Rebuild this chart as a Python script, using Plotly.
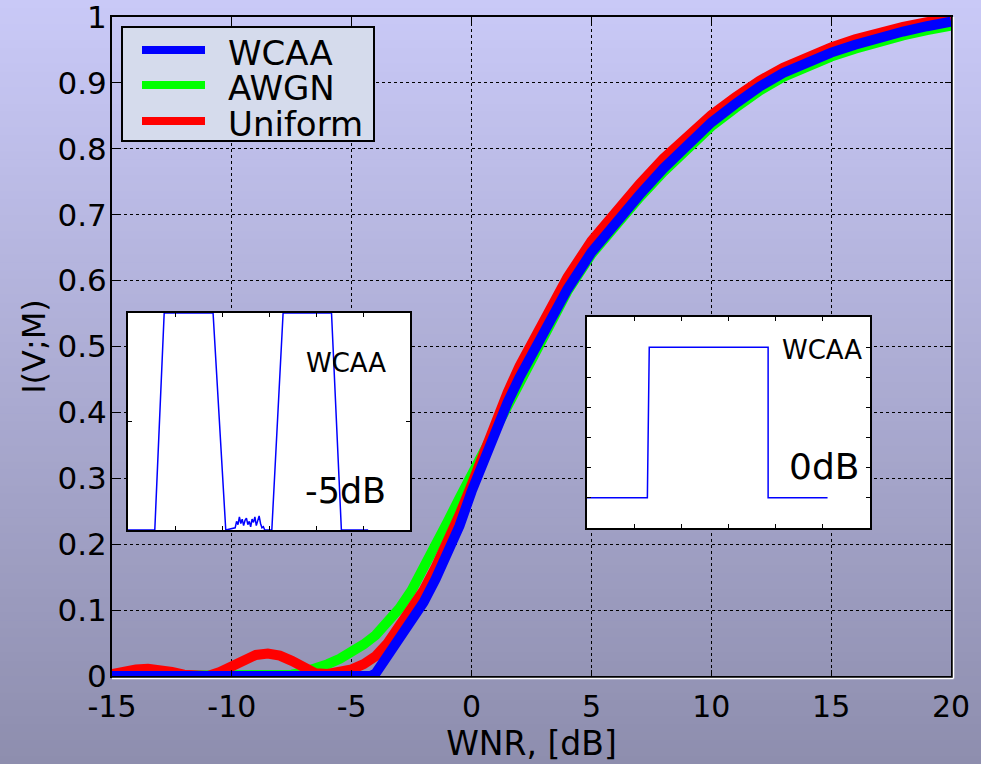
import plotly.graph_objects as go

# ---------------- data ----------------
wnr_wcaa = [-15, -4.2, -4.0, -3.5, -3.0, -2.5, -2.0, -1.5, -1.0, -0.5, 0.0, 0.5, 1.0, 1.5,
            2.0, 2.5, 3.0, 4.0, 5.0, 6.0, 7.0, 8.0, 9.0, 10.0, 11.0, 12.0, 13.0, 14.0,
            15.0, 16.0, 17.0, 18.0, 19.0, 20.0]
mi_wcaa = [0.0, 0.0, 0.004, 0.03, 0.055, 0.082, 0.112, 0.147, 0.184, 0.228, 0.28, 0.328,
           0.375, 0.415, 0.453, 0.487, 0.52, 0.587, 0.643, 0.688, 0.73, 0.77, 0.807, 0.84,
           0.868, 0.894, 0.915, 0.932, 0.946, 0.958, 0.969, 0.978, 0.986, 0.993]

wnr_awgn = [-15, -8.0, -7.5, -7.0, -6.5, -6.0, -5.5, -5.0, -4.5, -4.0, -3.5, -3.0, -2.5,
            -2.0, -1.5, -1.0, -0.5, 0.0, 0.5, 1.0, 1.5, 2.0, 2.5, 3.0, 4.0, 5.0, 6.0, 7.0,
            8.0, 9.0, 10.0, 11.0, 12.0, 13.0, 14.0, 15.0, 16.0, 17.0, 18.0, 19.0, 20.0]
mi_awgn = [0.0, 0.0, 0.002, 0.006, 0.011, 0.018, 0.026, 0.036, 0.048, 0.062, 0.08, 0.103,
           0.13, 0.163, 0.198, 0.234, 0.27, 0.305, 0.342, 0.378, 0.415, 0.452, 0.486, 0.518,
           0.584, 0.64, 0.685, 0.726, 0.765, 0.802, 0.834, 0.862, 0.888, 0.909, 0.926, 0.94,
           0.952, 0.963, 0.972, 0.98, 0.987]

wnr_unif = [-15, -14.5, -14.0, -13.5, -13.0, -12.5, -12.0, -11.5, -11.0, -10.5, -10.0, -9.5,
            -9.0, -8.5, -8.0, -7.5, -7.0, -6.5, -6.0, -5.5, -5.0, -4.5, -4.0, -3.5, -3.0,
            -2.5, -2.0, -1.5, -1.0, -0.5, 0.0, 0.5, 1.0, 1.5, 2.0, 2.5, 3.0, 4.0, 5.0, 6.0,
            7.0, 8.0, 9.0, 10.0, 11.0, 12.0, 13.0, 14.0, 15.0, 16.0, 17.0, 18.0, 19.0, 20.0]
mi_unif = [0.003, 0.007, 0.01, 0.011, 0.01, 0.006, 0.002, 0.0, 0.0, 0.006, 0.015, 0.026,
           0.032, 0.034, 0.031, 0.023, 0.012, 0.004, 0.003, 0.005, 0.01, 0.018, 0.03, 0.05,
           0.075, 0.1, 0.13, 0.165, 0.203, 0.245, 0.29, 0.338, 0.388, 0.43, 0.47, 0.505,
           0.54, 0.605, 0.66, 0.705, 0.746, 0.785, 0.82, 0.851, 0.878, 0.903, 0.923, 0.94,
           0.954, 0.966, 0.976, 0.985, 0.992, 0.999]

series_names = ["WCAA", "AWGN", "Uniform"]
series_colors = ["#0000ff", "#00ff00", "#ff0000"]

x_tickvals = [-15, -10, -5, 0, 5, 10, 15, 20]
x_ticktext = ["-15", "-10", "-5", "0", "5", "10", "15", "20"]
y_tickvals = [0, 0.1, 0.2, 0.3, 0.4, 0.5, 0.6, 0.7, 0.8, 0.9, 1.0]
y_ticktext = ["0", "0.1", "0.2", "0.3", "0.4", "0.5", "0.6", "0.7", "0.8", "0.9", "1"]

# inset: WCAA noise distribution at -5 dB
pdf_m5_x = [0.0, 0.57, 0.77, 1.81, 2.08, 2.28, 2.31, 2.34, 2.37, 2.40, 2.43, 2.46, 2.49,
            2.52, 2.55, 2.58, 2.61, 2.64, 2.67, 2.70, 2.73, 2.76, 2.79, 2.82, 2.85, 2.88,
            2.91, 3.06, 3.30, 4.33, 4.54, 5.11]
pdf_m5_y = [0.0, 0.0, 2.0, 2.0, 0.0, 0.02, 0.08, 0.05, 0.12, 0.06, 0.10, 0.04, 0.09, 0.11,
            0.05, 0.08, 0.03, 0.10, 0.07, 0.12, 0.04, 0.09, 0.13, 0.06, 0.02, 0.03, 0.0,
            0.0, 2.0, 2.0, 0.0, 0.0]

# inset: WCAA noise distribution at 0 dB
pdf_0_x = [0.0, 1.28, 1.32, 3.84, 3.84, 5.1]
pdf_0_y = [1.0, 1.0, 6.0, 6.0, 1.0, 1.0]

FONT = "DejaVu Sans"
W, H = 981, 764
ML, MR, MT, MB = 112, 30, 17, 88
PW, PH = W - ML - MR, H - MT - MB


def px(xp):
    """page pixel column -> paper x"""
    return (xp - ML) / PW


def py(yp):
    """page pixel row -> paper y"""
    return (MT + PH - yp) / PH


fig = go.Figure()

# main curves: AWGN and Uniform underneath, WCAA on top
fig.add_trace(go.Scatter(x=wnr_awgn, y=mi_awgn, name="AWGN", mode="lines",
                         line=dict(color=series_colors[1], width=10), showlegend=False))
fig.add_trace(go.Scatter(x=wnr_unif, y=mi_unif, name="Uniform", mode="lines",
                         line=dict(color=series_colors[2], width=10), showlegend=False))
fig.add_trace(go.Scatter(x=wnr_wcaa, y=mi_wcaa, name="WCAA", mode="lines",
                         line=dict(color=series_colors[0], width=10), showlegend=False))

# inset panels: white backing then the distribution curve
fig.add_trace(go.Scatter(x=[0, 6, 6, 0, 0], y=[0, 0, 2, 2, 0], mode="lines", fill="toself",
                         fillcolor="white", line=dict(width=0), hoverinfo="skip",
                         showlegend=False, xaxis="x2", yaxis="y2"))
fig.add_trace(go.Scatter(x=pdf_m5_x, y=pdf_m5_y, mode="lines", showlegend=False,
                         line=dict(color="#0000ff", width=1.5), xaxis="x2", yaxis="y2"))
fig.add_trace(go.Scatter(x=[0, 6, 6, 0, 0], y=[0, 0, 7, 7, 0], mode="lines", fill="toself",
                         fillcolor="white", line=dict(width=0), hoverinfo="skip",
                         showlegend=False, xaxis="x3", yaxis="y3"))
fig.add_trace(go.Scatter(x=pdf_0_x, y=pdf_0_y, mode="lines", showlegend=False,
                         line=dict(color="#0000ff", width=1.5), xaxis="x3", yaxis="y3"))

# vertical background gradient over the whole page
top_c = (201, 201, 247)
bot_c = (142, 142, 174)
n_bands = 96
y_lo = -MB / PH
y_hi = 1 + MT / PH
shapes = []
for i in range(n_bands):
    t = i / (n_bands - 1)
    c = tuple(round(top_c[k] + (bot_c[k] - top_c[k]) * t) for k in range(3))
    y1 = y_hi - (y_hi - y_lo) * i / n_bands
    y0 = y_hi - (y_hi - y_lo) * (i + 1) / n_bands
    shapes.append(dict(type="rect", xref="paper", yref="paper",
                       x0=-ML / PW, x1=1 + MR / PW, y0=y0 - 0.002, y1=y1,
                       fillcolor="rgb(%d,%d,%d)" % c, line=dict(width=0), layer="below"))

# thin white edge outside the right and bottom frame
shapes.append(dict(type="line", xref="paper", yref="paper",
                   x0=1 + 2.5 / PW, x1=1 + 2.5 / PW, y0=-2.5 / PH, y1=1,
                   line=dict(color="white", width=1.5)))
shapes.append(dict(type="line", xref="paper", yref="paper",
                   x0=0, x1=1 + 2.5 / PW, y0=-2.5 / PH, y1=-2.5 / PH,
                   line=dict(color="white", width=1.5)))

# legend box with line swatches
shapes.append(dict(type="rect", xref="paper", yref="paper",
                   x0=px(122), x1=px(374), y0=py(141), y1=py(27),
                   fillcolor="#d5dbec", line=dict(color="black", width=2), layer="above"))
legend_rows = [50, 85, 121]
annotations = []
for name, color, row in zip(series_names, series_colors, legend_rows):
    shapes.append(dict(type="line", xref="paper", yref="paper",
                       x0=px(142), x1=px(205), y0=py(row), y1=py(row),
                       line=dict(color=color, width=8), layer="above"))
    annotations.append(dict(text=name, xref="paper", yref="paper", x=px(226),
                            y=py(row + 3), xanchor="left", yanchor="middle",
                            showarrow=False,
                            font=dict(family=FONT, size=34, color="black")))

inset_axis = dict(showline=True, linecolor="black", linewidth=2, mirror="ticks",
                  ticks="inside", ticklen=4, tickcolor="black", showticklabels=False,
                  showgrid=False, zeroline=False, fixedrange=True, automargin=False)

annotations += [
    dict(text="WCAA", xref="x2 domain", yref="y2 domain", x=0.773, y=0.77,
         xanchor="center", yanchor="middle", showarrow=False,
         font=dict(family=FONT, size=26, color="black")),
    dict(text="-5dB", xref="x2 domain", yref="y2 domain", x=0.771, y=0.18,
         xanchor="center", yanchor="middle", showarrow=False,
         font=dict(family=FONT, size=35, color="black")),
    dict(text="WCAA", xref="x3 domain", yref="y3 domain", x=0.829, y=0.843,
         xanchor="center", yanchor="middle", showarrow=False,
         font=dict(family=FONT, size=26, color="black")),
    dict(text="0dB", xref="x3 domain", yref="y3 domain", x=0.839, y=0.29,
         xanchor="center", yanchor="middle", showarrow=False,
         font=dict(family=FONT, size=36, color="black")),
]

fig.update_layout(
    width=W, height=H,
    margin=dict(l=ML, r=MR, t=MT, b=MB, pad=0, autoexpand=False),
    paper_bgcolor="rgba(0,0,0,0)",
    plot_bgcolor="rgba(0,0,0,0)",
    font=dict(family=FONT, color="black"),
    shapes=shapes,
    annotations=annotations,
    showlegend=False,
    xaxis=dict(range=[-15, 20], tickvals=x_tickvals, ticktext=x_ticktext,
               showgrid=True, gridcolor="black", automargin=False,
               griddash="dot", gridwidth=1, showline=True, linecolor="black", linewidth=2,
               mirror="ticks", ticks="inside", ticklen=6, tickcolor="black",
               zeroline=False, tickfont=dict(family=FONT, size=30, color="black"),
               ticklabelstandoff=3, ticklabeloverflow="allow",
               title=dict(text="WNR, [dB]", font=dict(family=FONT, size=33, color="black"),
                          standoff=0)),
    yaxis=dict(range=[0, 1], tickvals=y_tickvals, ticktext=y_ticktext,
               showgrid=True, gridcolor="black", automargin=False,
               griddash="dot", gridwidth=1, showline=True, linecolor="black", linewidth=2,
               mirror="ticks", ticks="inside", ticklen=6, tickcolor="black",
               zeroline=False, tickfont=dict(family=FONT, size=31, color="black"),
               ticklabelstandoff=-3, ticklabeloverflow="allow",
               title=dict(text="I(V;M)", font=dict(family=FONT, size=32, color="black"),
                          standoff=2)),
    xaxis2=dict(domain=[px(128), px(410)], range=[0, 6], dtick=1,
                anchor="y2", **inset_axis),
    yaxis2=dict(domain=[py(530), py(313)], range=[0, 2],
                dtick=1, anchor="x2", **inset_axis),
    xaxis3=dict(domain=[px(587), px(870)], range=[0, 6], dtick=1,
                anchor="y3", **inset_axis),
    yaxis3=dict(domain=[py(528), py(317)], range=[0, 7],
                dtick=1, anchor="x3", **inset_axis),
)

fig.write_html("out.html")
